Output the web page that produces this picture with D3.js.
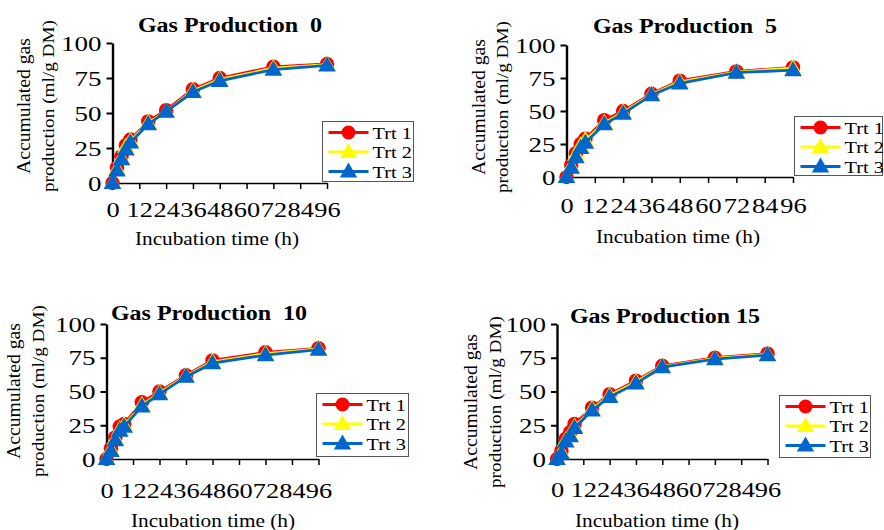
<!DOCTYPE html>
<html>
<head>
<meta charset="utf-8">
<script src="https://cdn.jsdelivr.net/npm/d3@7"></script>
<style>
  body { margin: 0; background: #fff; }
</style>
</head>
<body>
<div id="chart"></div>
<script>
// incubation times (h) and axis ticks
const hours = [0, 2, 4, 6, 8, 16, 24, 36, 48, 72, 96];
const xTicks = [0, 12, 24, 36, 48, 60, 72, 84, 96];
const yTicks = [0, 25, 50, 75, 100];
const treatments = ["Trt 1", "Trt 2", "Trt 3"];

const gp0Trt1 = [0, 11, 19, 27, 31, 44, 52, 67, 75, 83, 85];
const gp0Trt2 = [0, 10, 18, 26, 30, 43, 51, 66, 74, 82, 84.5];
const gp0Trt3 = [0, 9, 17, 24, 29, 42, 51, 65, 73, 81, 84];

const gp5Trt1 = [0, 9, 18, 25, 29, 43, 50, 63, 73, 80, 83];
const gp5Trt2 = [0, 8, 17, 24, 28, 41, 49, 62.5, 72, 79.5, 82.5];
const gp5Trt3 = [0, 7, 15, 22, 26, 40, 48, 62, 71, 79, 81];

const gp10Trt1 = [0, 8, 16, 24, 26, 42, 50, 62, 73, 79, 82];
const gp10Trt2 = [0, 7, 15, 22, 25, 40, 49, 61.5, 72, 78, 81.5];
const gp10Trt3 = [0, 6, 14, 21, 24, 39, 48, 61, 71, 77, 81];

const gp15Trt1 = [0, 6, 15, 20, 26, 38, 48, 58, 69, 75, 78];
const gp15Trt2 = [0, 5, 14, 18, 24, 37, 47, 57, 68.5, 74.5, 77.5];
const gp15Trt3 = [0, 4, 13, 17, 23, 36, 46, 56, 68, 74, 77];

const colors = ["#FF0000", "#FFFF00", "#0066CC"];
const shapes = [d3.symbolCircle, d3.symbolTriangle, d3.symbolTriangle];
const serif = "Liberation Serif";

const panels = [
  { title: "Gas Production  0", series: [gp0Trt1, gp0Trt2, gp0Trt3],
    ax: 112.5, x96: 327, top: 43, bot: 183, titleX: 230, titleY: 32, tickBase: 217,
    xlab: [217, 245], ylab: [30, 54, 106], legend: [322.5, 121.5, 91, 60] },
  { title: "Gas Production  5", series: [gp5Trt1, gp5Trt2, gp5Trt3],
    ax: 566.5, x96: 793, top: 45, bot: 177, titleX: 685, titleY: 33, tickBase: 213,
    xlab: [678, 243], ylab: [485, 508, 107], legend: [794.5, 116.5, 88, 59] },
  { title: "Gas Production  10", series: [gp10Trt1, gp10Trt2, gp10Trt3],
    ax: 106.5, x96: 318.5, top: 324, bot: 459, titleX: 209, titleY: 320, tickBase: 498,
    xlab: [213, 527], ylab: [20, 44, 391], legend: [316.5, 393.5, 92, 63] },
  { title: "Gas Production 15", series: [gp15Trt1, gp15Trt2, gp15Trt3],
    ax: 557, x96: 767.5, top: 324, bot: 459, titleX: 665, titleY: 323, tickBase: 497,
    xlab: [657, 527], ylab: [477, 501, 402], legend: [779.5, 395.5, 91, 62] }
];

const svg = d3.select("#chart")
    .append("svg")
    .attr("width", 884)
    .attr("height", 530)
    .attr("font-family", serif);

// text in the picture is stretched sideways
function wideText(g, x, y, str, size, sx, anchor, weight) {
    return g.append("text")
        .attr("transform", `translate(${x},${y}) scale(${sx},1)`)
        .attr("text-anchor", anchor)
        .attr("font-family", serif)
        .attr("font-size", size)
        .attr("font-weight", weight || "normal")
        .attr("fill", "#000")
        .style("white-space", "pre")
        .text(str);
}

panels.forEach(p => {
    const g = svg.append("g");

    const x = d3.scaleLinear().domain([0, 96]).range([p.ax, p.x96]);
    const y = d3.scaleLinear().domain([0, 100]).range([p.bot, p.top]);

    // y axis
    const yAxis = g.append("g")
        .attr("transform", `translate(${p.ax},0)`)
        .call(d3.axisLeft(y).tickValues(yTicks).tickSize(6).tickSizeOuter(0));
    yAxis.attr("font-family", serif).attr("font-size", 20);
    yAxis.select(".domain").attr("stroke", "#000").attr("stroke-width", 2.4);
    yAxis.selectAll(".tick line").attr("stroke-width", 2);
    yAxis.selectAll(".tick text")
        .attr("x", null).attr("dy", null)
        .attr("transform", "translate(-11,7) scale(1.35,1)")
        .attr("font-family", serif);

    // x axis
    const xAxis = g.append("g")
        .attr("transform", `translate(0,${p.bot})`)
        .call(d3.axisBottom(x).tickValues(xTicks).tickSize(6).tickSizeOuter(0));
    xAxis.attr("font-family", serif).attr("font-size", 20);
    xAxis.select(".domain").attr("stroke", "#000").attr("stroke-width", 1.5);
    xAxis.selectAll(".tick line").attr("stroke-width", 1.5);
    xAxis.selectAll(".tick text")
        .attr("y", null).attr("dy", null)
        .attr("transform", `translate(0,${p.tickBase - p.bot}) scale(1.32,1)`)
        .attr("font-family", serif);

    // series: red first, blue on top
    p.series.forEach((vals, i) => {
        const pts = hours.map((h, k) => [h, vals[k]]);
        g.append("path")
            .datum(pts)
            .attr("fill", "none")
            .attr("stroke", colors[i])
            .attr("stroke-width", 2.8)
            .attr("d", d3.line().x(d => x(d[0])).y(d => y(d[1])));
        g.selectAll(null)
            .data(pts)
            .enter()
            .append("path")
            .attr("transform", d => `translate(${x(d[0])},${y(d[1]) + (i ? 1 : 0)})`)
            .attr("d", d3.symbol().type(shapes[i]).size(i ? 135 : 165))
            .attr("fill", colors[i]);
    });

    // title
    wideText(g, p.titleX, p.titleY, p.title, 20, 1.2, "middle", "bold");

    // axis titles
    wideText(g, p.xlab[0], p.xlab[1], "Incubation time (h)", 19, 1.12, "middle");
    g.append("text")
        .attr("transform", `translate(${p.ylab[0]},${p.ylab[2]}) rotate(-90)`)
        .attr("text-anchor", "middle")
        .attr("font-family", serif)
        .attr("font-size", 18)
        .attr("textLength", 136)
        .attr("lengthAdjust", "spacingAndGlyphs")
        .text("Accumulated gas");
    g.append("text")
        .attr("transform", `translate(${p.ylab[1]},${p.ylab[2]}) rotate(-90)`)
        .attr("text-anchor", "middle")
        .attr("font-family", serif)
        .attr("font-size", 17.5)
        .attr("textLength", 172)
        .attr("lengthAdjust", "spacingAndGlyphs")
        .text("production (ml/g DM)");

    // legend
    const [lx, ly, lw, lh] = p.legend;
    const lg = g.append("g").attr("transform", `translate(${lx},${ly})`);
    lg.append("rect")
        .attr("width", lw).attr("height", lh)
        .attr("fill", "#fff").attr("stroke", "#555").attr("stroke-width", 1);
    treatments.forEach((t, i) => {
        const cy = 11 + i * 19.5;
        lg.append("line")
            .attr("x1", 6).attr("x2", 46).attr("y1", cy).attr("y2", cy)
            .attr("stroke", colors[i]).attr("stroke-width", 2.8);
        lg.append("path")
            .attr("transform", `translate(26,${cy + (i ? 1 : 0)})`)
            .attr("d", d3.symbol().type(shapes[i]).size(i ? 130 : 150))
            .attr("fill", colors[i]);
        wideText(lg, 50, cy + 6, t, 16, 1.27, "start");
    });
});
</script>
</body>
</html>
